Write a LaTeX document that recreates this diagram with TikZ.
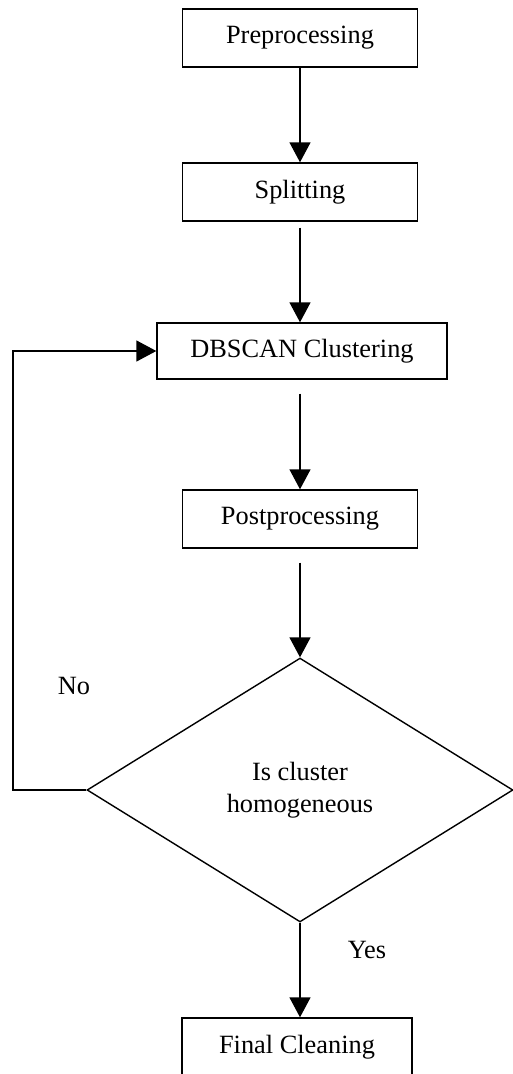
\documentclass[tikz,border=0pt]{standalone}
\usepackage{fontspec}
\setmainfont{Liberation Serif}
\usetikzlibrary{shapes.geometric,arrows.meta}
\begin{document}
\begin{tikzpicture}[x=0.02cm, y=-0.02cm, line width=0.8pt,
  rotulo/.style={font=\fontsize{15}{18}\selectfont},
  caja/.style={draw, rotulo, minimum width=4.7cm, minimum height=1.16cm, inner sep=0pt},
  flecha/.style={-{Triangle[length=0.4cm, width=0.42cm]}}]
  \useasboundingbox (0,0) rectangle (512,1074);
  % las cajas del proceso
  \node[caja] (pre) at (300,38) {Preprocessing};
  \node[caja] (split) at (300,192) {Splitting};
  \node[caja, minimum width=5.8cm, minimum height=1.12cm] (dbscan) at (302,351) {DBSCAN Clustering};
  \node[caja] (post) at (300,519) {Postprocessing};
  % la pregunta, un rombo que se sale por la derecha
  \node[draw, diamond, rotulo, align=center, inner sep=0pt,
    minimum width=8.52cm, minimum height=5.28cm] (check) at (300,790) {Is cluster\\homogeneous};
  \node[caja, minimum width=4.6cm] (final) at (297,1047) {Final Cleaning};
  % las flechas hacia abajo
  \draw[flecha] (pre) -- (split);
  \draw[flecha, shorten <=0.12cm] (split) -- (dbscan.north -| split);
  \draw[flecha, shorten <=0.28cm] (dbscan.south -| post) -- (post);
  \draw[flecha, shorten <=0.28cm] (post) -- (check);
  \draw[flecha] (check.south) -- (check.south |- final.north);
  % el lazo de vuelta
  \coordinate (lazo) at (13,790);
  \draw[flecha] (check.west) -- (lazo) |- (dbscan.west);
  % las respuestas
  \node[rotulo] (no) at (74,686) {No};
  \node[rotulo] (yes) at (367,950) {Yes};
\end{tikzpicture}
\end{document}
